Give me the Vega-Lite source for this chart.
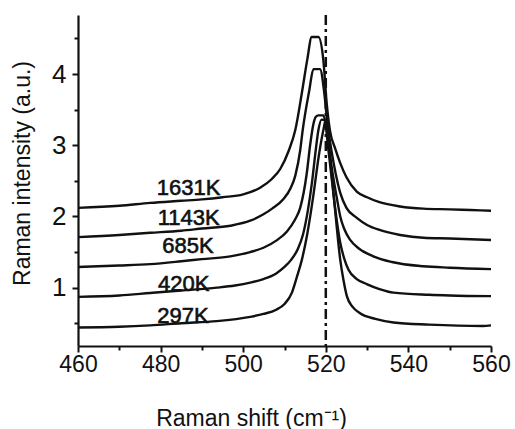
{
  "$schema": "https://vega.github.io/schema/vega-lite/v6.json",
  "autosize": {"type": "none"},
  "width": 413,
  "height": 331,
  "padding": {"left": 78, "top": 15, "right": 24, "bottom": 83},
  "background": "white",
  "config": {
    "view": {"stroke": null},
    "font": "Liberation Sans",
    "axis": {"grid": false, "domainColor": "#111", "domainWidth": 2.2, "tickColor": "#111", "tickWidth": 2, "labelColor": "#111", "titleColor": "#111", "labelFont": "Liberation Sans", "titleFont": "Liberation Sans", "titleFontWeight": "normal"}
  },
  "datasets": {
    "spectra": [
      {"T": "1631K", "x": 460, "y": 2.12}, {"T": "1631K", "x": 470, "y": 2.15}, {"T": "1631K", "x": 477.5, "y": 2.19}, {"T": "1631K", "x": 485, "y": 2.22}, {"T": "1631K", "x": 490, "y": 2.24}, {"T": "1631K", "x": 495, "y": 2.27}, {"T": "1631K", "x": 500, "y": 2.31}, {"T": "1631K", "x": 504, "y": 2.4}, {"T": "1631K", "x": 507, "y": 2.53}, {"T": "1631K", "x": 509, "y": 2.67}, {"T": "1631K", "x": 511, "y": 2.92}, {"T": "1631K", "x": 512.6, "y": 3.21}, {"T": "1631K", "x": 514.3, "y": 3.77}, {"T": "1631K", "x": 515.5, "y": 4.2}, {"T": "1631K", "x": 516.6, "y": 4.52}, {"T": "1631K", "x": 518.2, "y": 4.52}, {"T": "1631K", "x": 519.4, "y": 4.2}, {"T": "1631K", "x": 520.2, "y": 3.6}, {"T": "1631K", "x": 521, "y": 3.21}, {"T": "1631K", "x": 522.3, "y": 2.95}, {"T": "1631K", "x": 523.5, "y": 2.75}, {"T": "1631K", "x": 525, "y": 2.55}, {"T": "1631K", "x": 527.5, "y": 2.35}, {"T": "1631K", "x": 530, "y": 2.27}, {"T": "1631K", "x": 533, "y": 2.2}, {"T": "1631K", "x": 538, "y": 2.14}, {"T": "1631K", "x": 543.6, "y": 2.11}, {"T": "1631K", "x": 550, "y": 2.1}, {"T": "1631K", "x": 555, "y": 2.09}, {"T": "1631K", "x": 560, "y": 2.08},
      {"T": "1143K", "x": 460, "y": 1.71}, {"T": "1143K", "x": 470, "y": 1.74}, {"T": "1143K", "x": 477.5, "y": 1.77}, {"T": "1143K", "x": 485, "y": 1.8}, {"T": "1143K", "x": 490, "y": 1.83}, {"T": "1143K", "x": 496.9, "y": 1.87}, {"T": "1143K", "x": 501.7, "y": 1.94}, {"T": "1143K", "x": 504.9, "y": 2.03}, {"T": "1143K", "x": 507, "y": 2.11}, {"T": "1143K", "x": 509.7, "y": 2.24}, {"T": "1143K", "x": 511.5, "y": 2.4}, {"T": "1143K", "x": 512.6, "y": 2.57}, {"T": "1143K", "x": 513.8, "y": 2.93}, {"T": "1143K", "x": 514.4, "y": 3.21}, {"T": "1143K", "x": 516, "y": 3.77}, {"T": "1143K", "x": 517, "y": 4.07}, {"T": "1143K", "x": 518.6, "y": 4.07}, {"T": "1143K", "x": 519.6, "y": 3.75}, {"T": "1143K", "x": 520.4, "y": 3.3}, {"T": "1143K", "x": 521.3, "y": 2.95}, {"T": "1143K", "x": 522.4, "y": 2.6}, {"T": "1143K", "x": 523.5, "y": 2.33}, {"T": "1143K", "x": 525, "y": 2.12}, {"T": "1143K", "x": 527.5, "y": 1.98}, {"T": "1143K", "x": 530, "y": 1.88}, {"T": "1143K", "x": 533, "y": 1.81}, {"T": "1143K", "x": 538, "y": 1.74}, {"T": "1143K", "x": 543.6, "y": 1.7}, {"T": "1143K", "x": 550, "y": 1.69}, {"T": "1143K", "x": 560, "y": 1.67},
      {"T": "685K", "x": 460, "y": 1.29}, {"T": "685K", "x": 470, "y": 1.31}, {"T": "685K", "x": 477.5, "y": 1.33}, {"T": "685K", "x": 485, "y": 1.37}, {"T": "685K", "x": 490, "y": 1.4}, {"T": "685K", "x": 496.9, "y": 1.44}, {"T": "685K", "x": 501.7, "y": 1.5}, {"T": "685K", "x": 504.9, "y": 1.56}, {"T": "685K", "x": 508, "y": 1.66}, {"T": "685K", "x": 510.6, "y": 1.79}, {"T": "685K", "x": 512.5, "y": 1.95}, {"T": "685K", "x": 513.8, "y": 2.12}, {"T": "685K", "x": 515.4, "y": 2.61}, {"T": "685K", "x": 516.2, "y": 3.0}, {"T": "685K", "x": 517, "y": 3.3}, {"T": "685K", "x": 517.6, "y": 3.4}, {"T": "685K", "x": 518.2, "y": 3.42}, {"T": "685K", "x": 519.4, "y": 3.42}, {"T": "685K", "x": 520, "y": 3.3}, {"T": "685K", "x": 520.8, "y": 2.95}, {"T": "685K", "x": 521.8, "y": 2.55}, {"T": "685K", "x": 522.7, "y": 2.25}, {"T": "685K", "x": 523.5, "y": 2.0}, {"T": "685K", "x": 524.5, "y": 1.82}, {"T": "685K", "x": 525.9, "y": 1.67}, {"T": "685K", "x": 528, "y": 1.55}, {"T": "685K", "x": 531.5, "y": 1.44}, {"T": "685K", "x": 536, "y": 1.36}, {"T": "685K", "x": 543.6, "y": 1.3}, {"T": "685K", "x": 550, "y": 1.28}, {"T": "685K", "x": 560, "y": 1.26},
      {"T": "420K", "x": 460, "y": 0.87}, {"T": "420K", "x": 470, "y": 0.89}, {"T": "420K", "x": 477.5, "y": 0.925}, {"T": "420K", "x": 485, "y": 0.96}, {"T": "420K", "x": 493.6, "y": 1.0}, {"T": "420K", "x": 498, "y": 1.03}, {"T": "420K", "x": 501.7, "y": 1.07}, {"T": "420K", "x": 504.9, "y": 1.12}, {"T": "420K", "x": 508, "y": 1.2}, {"T": "420K", "x": 510, "y": 1.29}, {"T": "420K", "x": 511.6, "y": 1.39}, {"T": "420K", "x": 513.2, "y": 1.54}, {"T": "420K", "x": 514.5, "y": 1.75}, {"T": "420K", "x": 515.7, "y": 2.1}, {"T": "420K", "x": 516.7, "y": 2.5}, {"T": "420K", "x": 517.6, "y": 2.95}, {"T": "420K", "x": 518.2, "y": 3.21}, {"T": "420K", "x": 519, "y": 3.36}, {"T": "420K", "x": 519.8, "y": 3.35}, {"T": "420K", "x": 520.5, "y": 3.0}, {"T": "420K", "x": 521.3, "y": 2.6}, {"T": "420K", "x": 522.3, "y": 2.1}, {"T": "420K", "x": 523.5, "y": 1.63}, {"T": "420K", "x": 524.5, "y": 1.4}, {"T": "420K", "x": 525.5, "y": 1.25}, {"T": "420K", "x": 527.5, "y": 1.12}, {"T": "420K", "x": 529.9, "y": 1.05}, {"T": "420K", "x": 533, "y": 0.98}, {"T": "420K", "x": 536.4, "y": 0.93}, {"T": "420K", "x": 545, "y": 0.9}, {"T": "420K", "x": 550, "y": 0.89}, {"T": "420K", "x": 560, "y": 0.88},
      {"T": "297K", "x": 460, "y": 0.44}, {"T": "297K", "x": 470, "y": 0.45}, {"T": "297K", "x": 477.5, "y": 0.47}, {"T": "297K", "x": 485, "y": 0.5}, {"T": "297K", "x": 493.6, "y": 0.53}, {"T": "297K", "x": 501.7, "y": 0.59}, {"T": "297K", "x": 504.9, "y": 0.63}, {"T": "297K", "x": 508, "y": 0.69}, {"T": "297K", "x": 510, "y": 0.77}, {"T": "297K", "x": 511.8, "y": 0.93}, {"T": "297K", "x": 513, "y": 1.15}, {"T": "297K", "x": 514.2, "y": 1.39}, {"T": "297K", "x": 515.5, "y": 1.75}, {"T": "297K", "x": 517, "y": 2.3}, {"T": "297K", "x": 518.3, "y": 2.85}, {"T": "297K", "x": 519.4, "y": 3.21}, {"T": "297K", "x": 520, "y": 3.36}, {"T": "297K", "x": 520.6, "y": 3.1}, {"T": "297K", "x": 521.4, "y": 2.6}, {"T": "297K", "x": 522.4, "y": 2.0}, {"T": "297K", "x": 523.5, "y": 1.39}, {"T": "297K", "x": 524.3, "y": 1.1}, {"T": "297K", "x": 525.1, "y": 0.88}, {"T": "297K", "x": 526.5, "y": 0.73}, {"T": "297K", "x": 528.3, "y": 0.64}, {"T": "297K", "x": 532, "y": 0.56}, {"T": "297K", "x": 536.4, "y": 0.51}, {"T": "297K", "x": 545, "y": 0.48}, {"T": "297K", "x": 558, "y": 0.46}, {"T": "297K", "x": 560, "y": 0.47}
    ],
    "labels": [
      {"T": "1631K", "x": 486.8, "y": 2.4},
      {"T": "1143K", "x": 486.8, "y": 1.98},
      {"T": "685K", "x": 486.6, "y": 1.58},
      {"T": "420K", "x": 485.6, "y": 1.05},
      {"T": "297K", "x": 485.4, "y": 0.6}
    ],
    "ref": [{"x": 520}]
  },
  "layer": [
    {
      "data": {"name": "spectra"},
      "mark": {"type": "line", "color": "#111", "strokeWidth": 2.4, "interpolate": "monotone"},
      "encoding": {
        "x": {"field": "x", "type": "quantitative", "scale": {"domain": [460, 560], "nice": false, "zero": false},
          "axis": {"title": "Raman shift (cm⁻¹)", "values": [460, 470, 480, 490, 500, 510, 520, 530, 540, 550, 560],
            "labelExpr": "datum.value % 20 === 0 ? format(datum.value, 'd') : ''",
            "tickSize": {"condition": {"test": "datum.value % 20 === 0", "value": 6}, "value": 4},
            "labelFontSize": 23, "labelPadding": 1, "labelFlush": false,
            "titleFontSize": 23, "titleX": 173, "titleY": 79, "titleAlign": "center", "titleBaseline": "alphabetic"}},
        "y": {"field": "y", "type": "quantitative", "scale": {"domain": [0.18, 4.83], "nice": false, "zero": false},
          "axis": {"title": "Raman intensity (a.u.)", "values": [0.5, 1, 1.5, 2, 2.5, 3, 3.5, 4, 4.5],
            "labelExpr": "datum.value % 1 === 0 ? format(datum.value, 'd') : ''",
            "tickSize": {"condition": {"test": "datum.value % 1 === 0", "value": 6}, "value": 4},
            "labelFontSize": 26, "labelPadding": 6, "labelFlush": false,
            "titleFontSize": 23, "titleX": -49, "titleY": 158, "titleAlign": "center", "titleBaseline": "alphabetic"}},
        "detail": {"field": "T"}
      }
    },
    {
      "data": {"name": "ref"},
      "mark": {"type": "rule", "color": "#111", "strokeWidth": 2.5, "strokeDash": [10, 4, 3, 4]},
      "encoding": {"x": {"field": "x", "type": "quantitative"}}
    },
    {
      "data": {"name": "labels"},
      "mark": {"type": "text", "fontSize": 22, "color": "#111", "stroke": "#111", "strokeWidth": 0.6, "align": "center", "baseline": "middle", "font": "Liberation Sans"},
      "encoding": {
        "x": {"field": "x", "type": "quantitative"},
        "y": {"field": "y", "type": "quantitative"},
        "text": {"field": "T"}
      }
    }
  ]
}
